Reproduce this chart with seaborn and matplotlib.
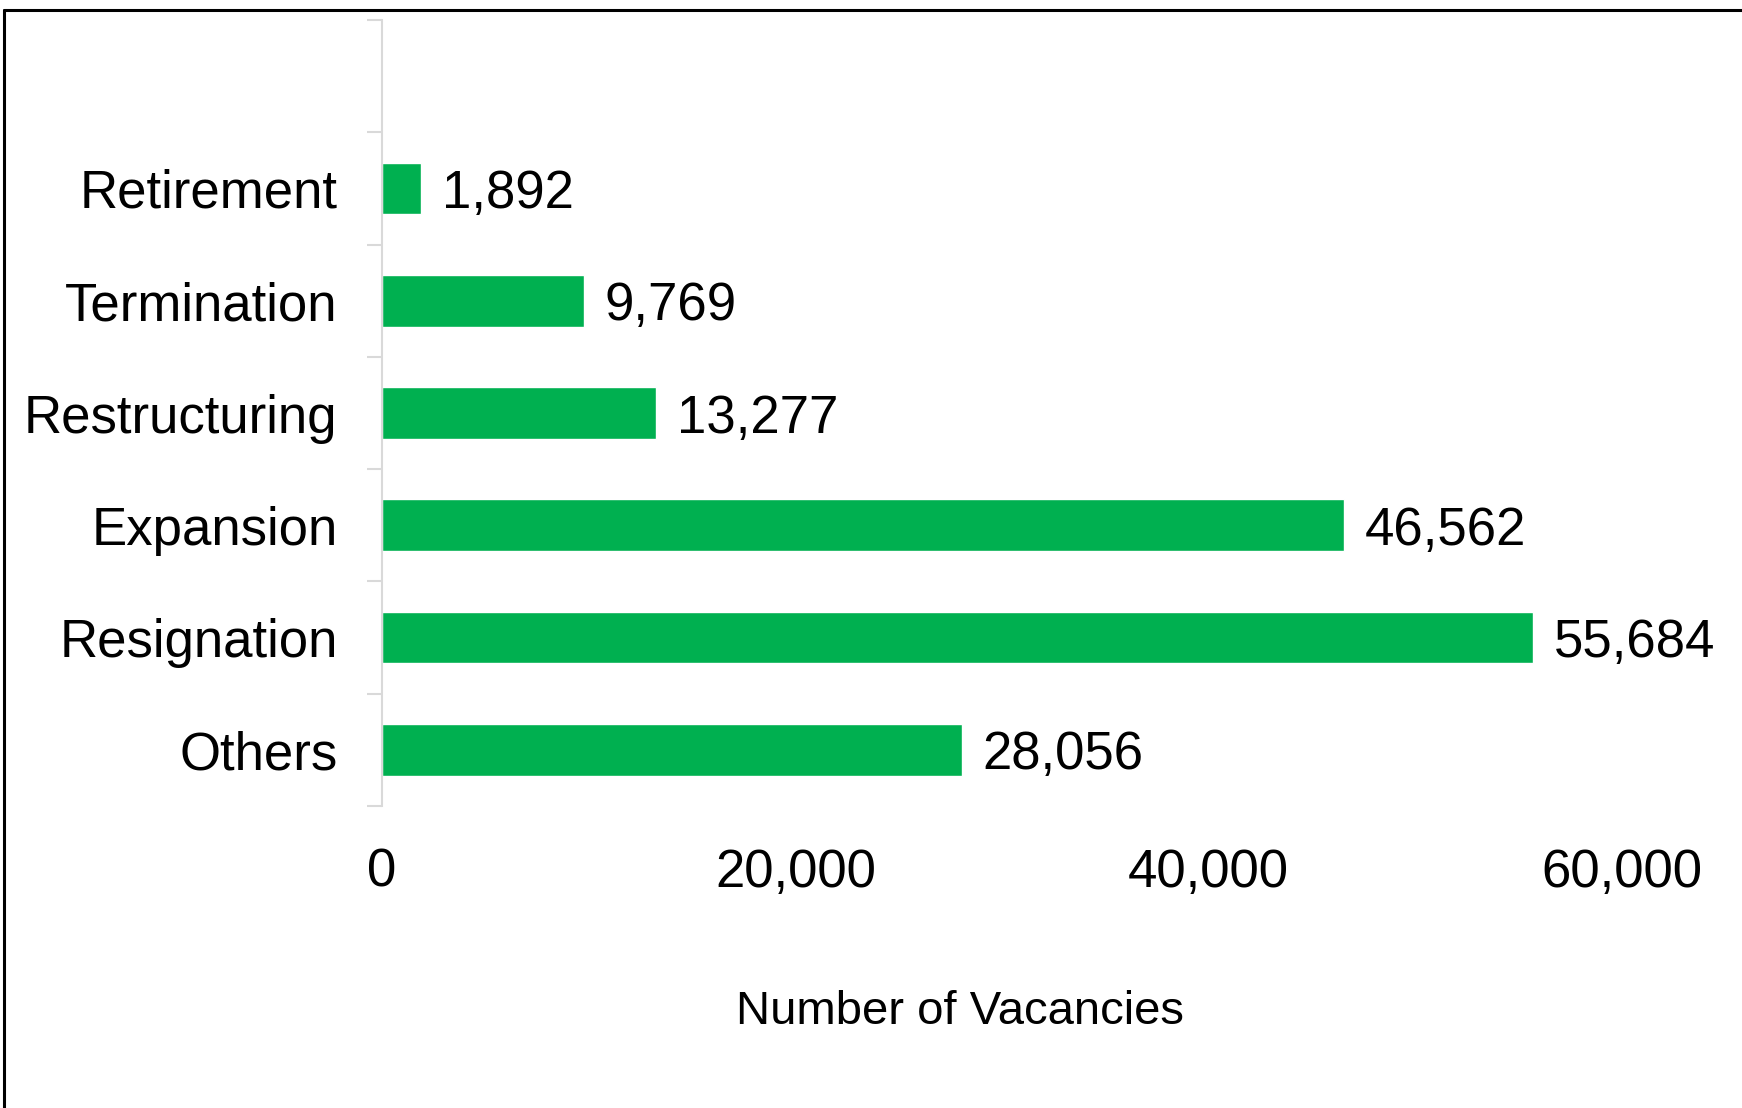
import matplotlib
matplotlib.use("Agg")
import matplotlib.pyplot as plt
from matplotlib.lines import Line2D
from matplotlib.ticker import FuncFormatter, FixedLocator
import seaborn as sns
import pandas as pd

# Reasons for vacancies, listed top to bottom
reasons = ["Retirement", "Termination", "Restructuring", "Expansion", "Resignation", "Others"]
vacancies = [1892, 9769, 13277, 46562, 55684, 28056]
x_ticks = [0, 20000, 40000, 60000]

BAR_GREEN = "#00B050"
AXIS_GREY = "#D9D9D9"

sns.set_theme(style="white")
plt.rcParams["font.family"] = ["Liberation Sans", "DejaVu Sans"]

df = pd.DataFrame({"reason": reasons, "vacancies": vacancies})

fig = plt.figure(figsize=(17.42, 11.08), dpi=100)
ax = fig.add_axes([382 / 1742, 1 - 806 / 1108, 1240 / 1742, 786 / 1108])

sns.barplot(data=df, y="reason", x="vacancies", order=reasons, color=BAR_GREEN,
            saturation=1, width=0.46, ax=ax, orient="h")

# one empty category slot above the first bar
ax.set_ylim(len(reasons) - 0.5, -1.5)
ax.set_xlim(0, 60000)
ax.set_xticks(x_ticks)
ax.xaxis.set_major_formatter(FuncFormatter(lambda v, p: f"{int(v):,}"))

# value labels at the end of each bar
for cont in ax.containers:
    anns = ax.bar_label(cont, labels=[f"{v:,}" for v in vacancies], padding=15,
                        fontsize=38, color="black")
    for a in anns:
        a.xyann = (15, -4)

# spines and ticks
for side in ["top", "right", "bottom"]:
    ax.spines[side].set_visible(False)
ax.spines["left"].set_color(AXIS_GREY)
ax.spines["left"].set_linewidth(1.5)

ax.yaxis.set_minor_locator(FixedLocator([i - 0.5 for i in range(-1, len(reasons) + 1)]))
ax.tick_params(axis="y", which="minor", left=True, length=11, width=1.5, color=AXIS_GREY)
ax.tick_params(axis="y", which="major", left=True, length=0, pad=32, labelsize=38,
               labelcolor="black")
ax.tick_params(axis="x", which="major", bottom=True, length=0, pad=30, labelsize=38,
               labelcolor="black")

ax.set_ylabel("")
ax.set_xlabel("Number of Vacancies", fontsize=34, color="black")
ax.xaxis.set_label_coords(0.466, -0.262)
ax.xaxis.label.set_va("center")

# frame lines along the left and top of the canvas
fig.add_artist(Line2D([4 / 1742, 4 / 1742], [0, 1 - 9.5 / 1108], transform=fig.transFigure,
                      color="black", linewidth=2.2))
fig.add_artist(Line2D([4 / 1742, 1], [1 - 9.5 / 1108, 1 - 9.5 / 1108], transform=fig.transFigure,
                      color="black", linewidth=2.2))

fig.savefig("out.png", dpi=100, facecolor="white")
